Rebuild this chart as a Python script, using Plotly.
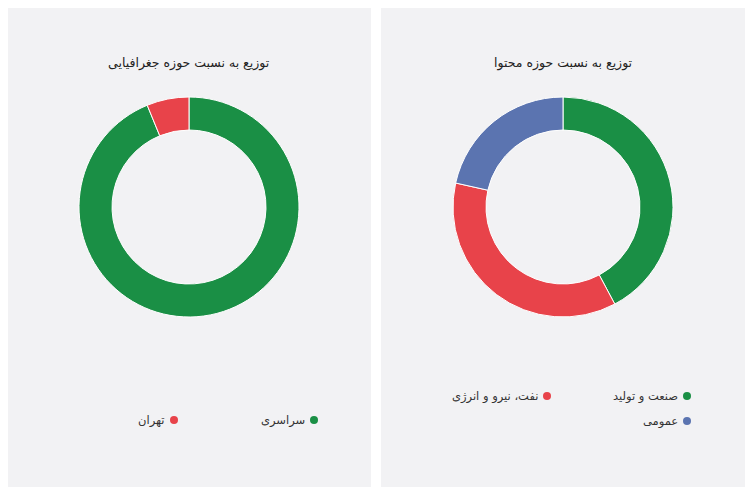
import plotly.graph_objects as go

# ---- data ----
GEO_LABELS = ['سراسری', 'تهران']
GEO_VALUES = [93.8, 6.2]
GEO_COLORS = ['#1a8f45', '#e8434a']

TOPIC_LABELS = ['صنعت و تولید', 'نفت، نیرو و انرژی', 'عمومی']
TOPIC_VALUES = [42.2, 36.3, 21.5]
TOPIC_COLORS = ['#1a8f45', '#e8434a', '#5b74b0']

TITLES = ['توزیع به نسبت حوزه جغرافیایی', 'توزیع به نسبت حوزه محتوا']

# the page body adds an 8px margin, so the figure is a bit smaller
# and every pixel position below is shifted by OFF
OFF = 8
W, H = 755 - 2 * OFF, 496 - 2 * OFF
FONT = "DejaVu Sans"
PANEL_BG = '#f2f2f4'


def px(x):
    return (x - OFF) / W


def py(y):
    return 1 - (y - OFF) / H


fig = go.Figure()

# panels (screen pixel boxes) and donut centres
panels = [(5, 7, 371, 487), (381, 7, 745, 487)]
centres = [(189, 207), (563, 207)]
R = 110

for (x0, y0, x1, y1) in panels:
    fig.add_shape(type='rect', xref='paper', yref='paper',
                  x0=px(x0), x1=px(x1), y0=py(y1), y1=py(y0),
                  fillcolor=PANEL_BG, line=dict(width=0), layer='below')

pies = [(GEO_LABELS, GEO_VALUES, GEO_COLORS), (TOPIC_LABELS, TOPIC_VALUES, TOPIC_COLORS)]
for (labels, values, colors), (cx, cy) in zip(pies, centres):
    fig.add_trace(go.Pie(
        labels=labels, values=values,
        hole=0.7, sort=False, direction='clockwise', rotation=0,
        marker=dict(colors=colors, line=dict(color='white', width=1)),
        textinfo='none', hoverinfo='label+percent', showlegend=False,
        domain=dict(x=[px(cx - R), px(cx + R)], y=[py(cy + R), py(cy - R)]),
    ))

for title, (cx, cy) in zip(TITLES, centres):
    fig.add_annotation(x=px(cx), y=py(63), xref='paper', yref='paper',
                       text=title, showarrow=False, xanchor='center', yanchor='middle',
                       font=dict(family=FONT, size=12.5, color='#222222'))

# RTL legends: dot on the right, text on its left
legend_pos = [
    [(314, 420), (174, 420)],
    [(687, 396), (547, 396), (687, 421)],
]
for (labels, _, colors), positions in zip(pies, legend_pos):
    for lab, col, (dx, dy) in zip(labels, colors, positions):
        fig.add_shape(type='circle', xref='paper', yref='paper',
                      x0=px(dx - 4), x1=px(dx + 4), y0=py(dy + 4), y1=py(dy - 4),
                      fillcolor=col, line=dict(width=0))
        fig.add_annotation(x=px(dx - 7), y=py(dy), xref='paper', yref='paper',
                           text=lab, showarrow=False, xanchor='right', yanchor='middle',
                           font=dict(family=FONT, size=11.5, color='#333333'))

fig.update_layout(
    width=W, height=H,
    margin=dict(l=0, r=0, t=0, b=0),
    paper_bgcolor='white', plot_bgcolor='white',
)

fig.write_html("out.html")
